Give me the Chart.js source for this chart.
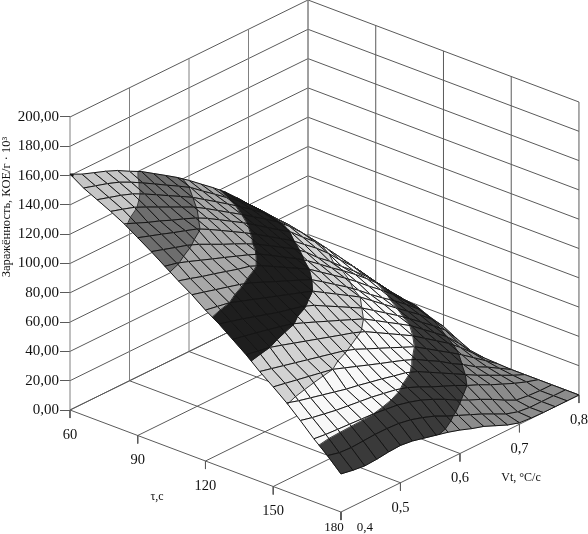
<!DOCTYPE html>
<html><head><meta charset="utf-8">
<style>html,body{margin:0;padding:0;background:#fff}canvas{display:block}</style>
<script src="https://cdn.jsdelivr.net/npm/chart.js@4"></script>
</head><body><canvas id="c" width="588" height="534"></canvas>
<script>
// ---- data ----
const tauTicks=[60,90,120,150,180];
const vtTicks=[0.4,0.5,0.6,0.7,0.8];
const zTicks=[0,20,40,60,80,100,120,140,160,180,200];
const tauGrid=[60,66,72,78,84,90,96,102,108,114,120,126,132,138,144,150,156,162,168,174,180];
const vtGrid=[.40,.42,.44,.46,.48,.50,.52,.54,.56,.58,.60,.62,.64,.66,.68,.70,.72,.74,.76,.78,.80];
const zTau060=[161,157,154,151,147.5,143,138.8,133.5,128.2,122.8,116.8,110.3,103.9,97,89,80.5,72,63,54,45,36];
const zTau066=[155,152.5,150,147,143,138.5,133.8,129,124.3,119.4,113,106.9,100.6,94.5,87.5,79.5,71,62.5,53.5,44.5,35];
const zTau072=[150.5,148,145.5,142.5,138.4,133.9,129.3,124.8,120.2,114.7,109.2,103.6,97.9,91.9,85.5,78,70,61,52,42.5,33];
const zTau078=[146,143.5,140.8,137,133,129,125,121,116,110.7,105.3,100,94.4,88.8,83,76,68,59,49.5,40,30.5];
const zTau084=[141,137.5,134,131,127.5,124.4,121,116.8,111.8,106.8,101.8,96.3,90.6,85,79.5,72,65,56.5,47,37.5,28];
const zTau090=[135,132.2,129.4,126.5,123.8,121,116.7,112,107.2,102.4,97.3,91.9,86.5,81,74.5,68,60.5,52,44,34.5,25];
const zTau096=[129,126.4,123.8,121.3,118,114,110,106.3,102.4,98,93,88,83,76.7,69,62.5,55,48,40.5,31.5,22.5];
const zTau102=[122.5,120.6,117.7,114.6,111.5,108.5,105.4,102.3,98.8,93.8,88.8,83.8,78.3,72,65.5,59.5,53,46,38.5,29,20.5];
const zTau108=[116,113.6,111,108.8,106.4,104,102,98.4,93.8,89.2,84.6,80,74,68,62,55.5,48.5,42,35,26.5,19];
const zTau114=[110,107.8,105.5,103.3,101,98.2,94.6,91,87.5,84,80.4,74.9,69.1,63.4,57.2,50.3,44,38,31.5,24.5,15];
const zTau120=[103,101.5,100,97.1,94.3,91.4,88.6,85.7,82.9,80,75,70,65,60,53.5,47,40.6,34.3,28,21,12];
const zTau126=[97,94.8,92.5,90,87.5,85,83,81,77.8,73.3,68.9,64.4,60,54.3,48.6,42.9,36.8,30.3,23.9,17,7];
const zTau132=[90,88.2,86.5,84.6,82.7,80.6,77.3,73.9,70.4,67,63.5,60,54.9,49.7,44.6,39.4,32.9,26.5,20,11.5,2.5];
const zTau138=[83,81.5,80,77.5,74.9,72.3,69.7,67.1,64.5,62,58.8,54.1,49.4,44.7,40,34.3,28.6,22.9,16.1,8.5,1];
const zTau144=[75,73,71,69,67,65,63,61,58.2,54.5,50.9,47.3,43.6,40,34.7,29.3,24,18.5,12.5,6.5,0.5];
const zTau150=[68,66.4,64.8,63.2,61.6,60,57,54,51,48,45.2,42.2,38.8,34,29.5,24,19.3,13.8,9.6,4.8,0];
const zTau156=[60.5,58,56,54,52,50,48.5,46.7,45,43,41.2,38,33.5,29,24.5,20,15.5,11.5,7.5,3.5,0];
const zTau162=[52,50,48.5,47,46,45,44,42.5,41,38.5,35,31,27.5,24,20,16.5,12.5,9,5.5,2.5,0];
const zTau168=[43,42,41.5,41,40.5,40,39,38,36,33.5,30,26,21.5,17.5,14,10,5.5,1.5,0.5,0,0];
const zTau174=[35,33,32.5,33,33.5,33.5,33,31.5,29,26,22,18.5,15,11.5,7.5,3.5,1,0,0,0,0];
const zTau180=[26,24.5,23.5,24,25,25.5,24.5,22.5,20.5,18.5,16,13,10.5,7,3.5,1,0.3,0,0,0,0];
const zSurface=[zTau060,zTau066,zTau072,zTau078,zTau084,zTau090,zTau096,zTau102,zTau108,zTau114,zTau120,zTau126,zTau132,zTau138,zTau144,zTau150,zTau156,zTau162,zTau168,zTau174,zTau180];
const bandLevels=[0,20,40,60,80,100,120,140,160,180];
const zTitle='Заражённость, КОЕ/г · 10³', tauTitle='τ,с', vtTitle='Vt, °C/с';

// ---- style ----
const bandGreys=['#8c8c8c','#3a3a3a','#f8f8f8','#d2d2d2','#1e1e1e','#a8a8a8','#6e6e6e','#c6c6c6','#111111'];
const serif='"Liberation Serif","Times New Roman",serif';
const gridColor='#5a5a5a', meshColor='#141414';

// ---- oblique projection into the two chart scales ----
const TX=2.258,TY=.85,VX=595,VY=292.5,ZP=1.465,OX=70,OY=410;
const px=(t,v)=>OX+TX*(t-60)+VX*(v-.4);
const el=(t,v,z)=>z-(TY*(t-60)-VY*(v-.4))/ZP;
const P=(t,v,z)=>({x:px(t,v),y:el(t,v,z)});

const sets=[];
function line(pts,color,width){sets.push({data:pts,showLine:true,borderColor:color,borderWidth:width,pointRadius:0,fill:false,tension:0,clip:false});}
function poly(pts,color){sets.push({data:pts.concat([pts[0]]),showLine:true,borderColor:color,borderWidth:.7,backgroundColor:color,pointRadius:0,fill:'shape',tension:0,clip:false});}

const T0=tauTicks[0],T1=tauTicks[4],V0=vtTicks[0],V1=vtTicks[4],Ztop=zTicks[10];
for(const z of zTicks){ // walls
  line([P(T0,V0,z),P(T0,V1,z)],gridColor,1);
  line([P(T0,V1,z),P(T1,V1,z)],gridColor,1);
}
for(const v of vtTicks){
  line([P(T0,v,0),P(T0,v,Ztop)],'#808080',1);
  line([P(T0,v,0),P(T1,v,0)],gridColor,1);
  line([P(T1,v,0),P(T1,v,-5.5)],gridColor,1);
}
for(const t of tauTicks){
  line([P(t,V1,0),P(t,V1,Ztop)],t===T0?'#808080':gridColor,1);
  line([P(t,V0,0),P(t,V1,0)],gridColor,1);
  line([P(t,V0,0),P(t,V0,-5.5)],gridColor,1);
}

function clip(poly,lev,keepAbove){
  const out=[];
  for(let i=0;i<poly.length;i++){
    const a=poly[i],b=poly[(i+1)%poly.length];
    const ia=keepAbove?a.z>=lev:a.z<=lev, ib=keepAbove?b.z>=lev:b.z<=lev;
    if(ia)out.push(a);
    if(ia!==ib){const f=(lev-a.z)/(b.z-a.z);out.push({t:a.t+f*(b.t-a.t),v:a.v+f*(b.v-a.v),z:lev});}
  }
  return out;
}
// painter's order: far corner (low tau, high Vt) first
for(let i=0;i<tauGrid.length-1;i++){
  for(let j=vtGrid.length-2;j>=0;j--){
    const q=[[i,j],[i+1,j],[i+1,j+1],[i,j+1]].map(([a,b])=>({t:tauGrid[a],v:vtGrid[b],z:zSurface[a][b]}));
    for(let k=0;k<bandGreys.length;k++){
      let c=clip(q,bandLevels[k],true);
      if(c.length>2)c=clip(c,bandLevels[k+1],false);
      if(c.length>2)poly(c.map(p=>P(p.t,p.v,p.z)),bandGreys[k]);
    }
    for(let k=1;k<bandLevels.length-1;k++){
      const L=bandLevels[k],cr=[];
      for(let e=0;e<4;e++){const a=q[e],b=q[(e+1)%4];
        if((a.z<L)!==(b.z<L)){const f=(L-a.z)/(b.z-a.z);cr.push(P(a.t+f*(b.t-a.t),a.v+f*(b.v-a.v),L));}}
      if(cr.length>=2)line(cr.slice(0,2),meshColor,.8);
    }
    const o=q.map(p=>P(p.t,p.v,p.z));
    line(o.concat([o[0]]),meshColor,1);
  }
}
sets.forEach((d,i)=>d.order=sets.length-i);

// ---- free texts placed from the scales ----
const labelsPlugin={id:'labels3d',afterDatasetsDraw(ch){
  const c=ch.ctx,X=ch.scales.x,Y=ch.scales.y;
  const at=(t,v,z)=>[X.getPixelForValue(px(t,v)),Y.getPixelForValue(el(t,v,z))];
  c.save();c.fillStyle='#111';c.textAlign='center';c.textBaseline='middle';
  tauTicks.forEach((t,i)=>{
    const[x,y]=at(t,V0,0),last=i===4;
    c.font=(last?13:14.5)+'px '+serif;
    c.fillText(String(t),x+(last?-7:0),y+(last?16:25));
  });
  vtTicks.forEach((v,i)=>{
    const[x,y]=at(T1,v,0),first=i===0;
    c.font=(first?13:14.5)+'px '+serif;
    c.fillText(v.toFixed(1).replace('.',','),Math.min(x+(first?24:0),579),y+(first?16:25));
  });
  c.font='12px '+serif;c.fillText(tauTitle,157,497);c.fillText(vtTitle,521,478);
  c.translate(7,207);c.rotate(-Math.PI/2);c.font='12.5px '+serif;c.fillText(zTitle,0,0);
  c.restore();
}};

new Chart(document.getElementById('c'),{
  type:'scatter',
  data:{datasets:sets},
  plugins:[labelsPlugin],
  options:{responsive:false,animation:false,events:[],
    layout:{padding:0},
    plugins:{legend:{display:false},tooltip:{enabled:false},title:{display:false}},
    scales:{
      x:{type:'linear',display:false,min:70,max:588},
      y:{type:'linear',min:OY/ZP-534/ZP,max:OY/ZP,
        afterBuildTicks(s){s.ticks=zTicks.map(v=>({value:v}));},
        afterFit(s){s.width=70;s.paddingTop=0;s.paddingBottom=0;},
        border:{display:false},
        grid:{drawOnChartArea:false,drawTicks:true,tickLength:10,color:gridColor},
        ticks:{padding:1,color:'#111',font:{family:serif,size:15},autoSkip:false,maxRotation:0,
          callback:v=>v.toFixed(2).replace('.',',')}
      }
    }
  }
});
</script></body></html>
